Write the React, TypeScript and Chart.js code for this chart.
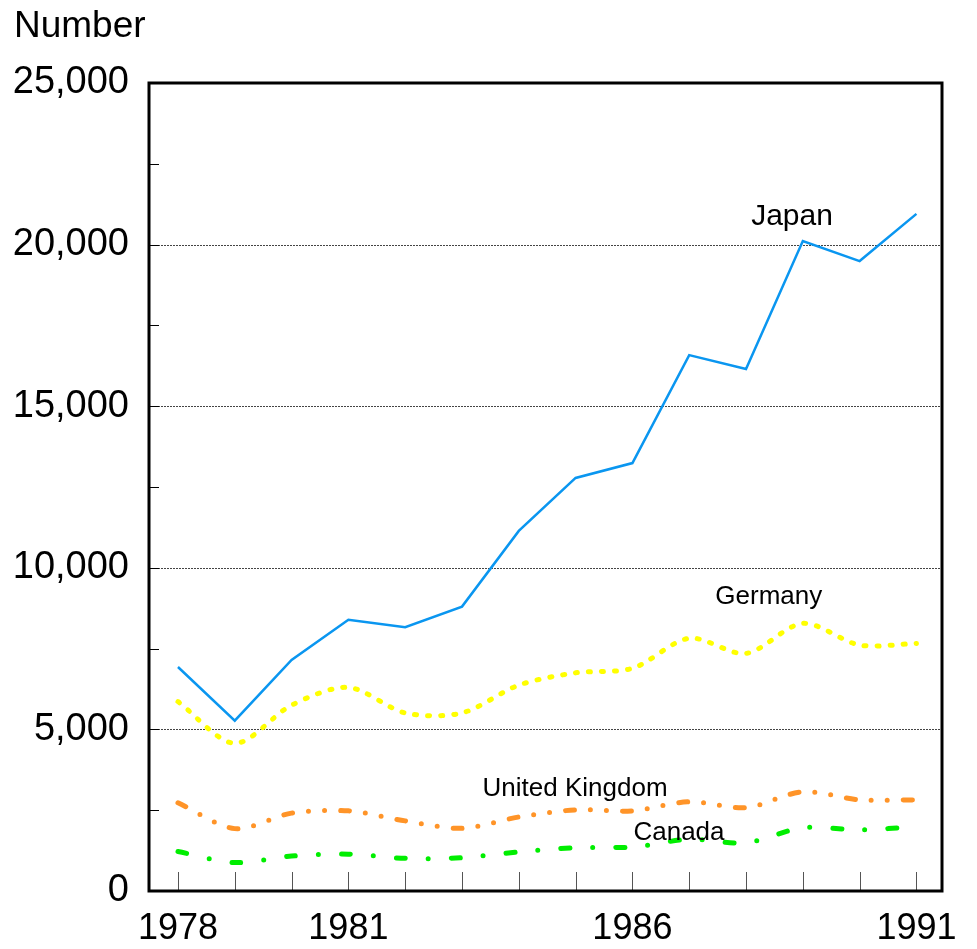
import React, { useEffect, useRef } from "react";
import { Chart, registerables } from "chart.js";

Chart.register(...registerables);

const years = [1978, 1979, 1980, 1981, 1982, 1983, 1984, 1985, 1986, 1987, 1988, 1989, 1990, 1991];
const labeledYears = [1978, 1981, 1986, 1991];
const yTickValues = [0, 5000, 10000, 15000, 20000, 25000];
const yMinorTicks = [2500, 7500, 12500, 17500, 22500];

const japan = [6930, 5270, 7150, 8390, 8160, 8800, 11140, 12780, 13240, 16580, 16150, 20110, 19490, 20950];
const germany = [5860, 4570, 5750, 6300, 5510, 5510, 6370, 6750, 6890, 7820, 7350, 8280, 7610, 7660];
const unitedKingdom = [2730, 1930, 2410, 2480, 2170, 1940, 2290, 2510, 2480, 2760, 2580, 3070, 2820, 2820];
const canada = [1220, 880, 1080, 1140, 1010, 1030, 1210, 1340, 1360, 1600, 1490, 1960, 1890, 1990];

const seriesLabels = [
  { text: "Japan", x: 1988.81, y: 20850, size: 30 },
  { text: "Germany", x: 1988.4, y: 9100, size: 26 },
  { text: "United Kingdom", x: 1984.99, y: 3160, size: 26 },
  { text: "Canada", x: 1986.82, y: 1790, size: 26 },
];

const FONT = "'Liberation Sans', Arial, Helvetica, sans-serif";

const pts = (vals: number[]) => vals.map((v, i) => ({ x: years[i], y: v }));

const decorPlugin = {
  id: "decor",
  beforeDatasetsDraw(chart: any) {
    const { ctx, chartArea: a, scales } = chart;
    const xs = scales.x;
    const ys = scales.y;
    ctx.save();
    ctx.strokeStyle = "#444";
    ctx.lineWidth = 1;
    ctx.setLineDash([2, 1]);
    [5000, 10000, 15000, 20000].forEach((v) => {
      const y = Math.round(ys.getPixelForValue(v)) + 0.5;
      ctx.beginPath();
      ctx.moveTo(a.left, y);
      ctx.lineTo(a.right, y);
      ctx.stroke();
    });
    ctx.setLineDash([]);
    ctx.strokeStyle = "#555";
    years.forEach((yr) => {
      const x = Math.round(xs.getPixelForValue(yr)) + 0.5;
      ctx.beginPath();
      ctx.moveTo(x, a.bottom);
      ctx.lineTo(x, a.bottom - 19);
      ctx.stroke();
    });
    ctx.strokeStyle = "#000";
    [...yMinorTicks, ...yTickValues].forEach((v) => {
      const y = Math.round(ys.getPixelForValue(v)) + 0.5;
      ctx.beginPath();
      ctx.moveTo(a.left, y);
      ctx.lineTo(a.left + 10, y);
      ctx.stroke();
    });
    ctx.restore();
  },
  afterDatasetsDraw(chart: any) {
    const { ctx, chartArea: a, scales } = chart;
    ctx.save();
    ctx.strokeStyle = "#000";
    ctx.lineWidth = 3;
    ctx.strokeRect(a.left, a.top, a.right - a.left, a.bottom - a.top);
    ctx.fillStyle = "#000";
    ctx.textAlign = "center";
    ctx.textBaseline = "middle";
    seriesLabels.forEach((l) => {
      ctx.font = `${l.size}px ${FONT}`;
      ctx.fillText(l.text, scales.x.getPixelForValue(l.x), scales.y.getPixelForValue(l.y));
    });
    ctx.font = `37px ${FONT}`;
    ctx.textAlign = "left";
    ctx.textBaseline = "alphabetic";
    ctx.fillText("Number", 14, 37);
    ctx.restore();
  },
};

export default function App() {
  const ref = useRef<HTMLCanvasElement>(null);
  useEffect(() => {
    const canvas = ref.current!;
    const chart = new Chart(canvas, {
      type: "line",
      data: {
        datasets: [
          {
            label: "Japan",
            data: pts(japan),
            borderColor: "#0a96f0",
            borderWidth: 2.5,
            pointRadius: 0,
            tension: 0,
          },
          {
            label: "Germany",
            data: pts(germany),
            borderColor: "#ffff00",
            borderWidth: 5,
            borderDash: [2, 11],
            borderCapStyle: "round",
            pointRadius: 0,
            tension: 0.3,
          },
          {
            label: "United Kingdom",
            data: pts(unitedKingdom),
            borderColor: "#ff9428",
            borderWidth: 5,
            borderDash: [9, 16, 0, 16, 0, 16],
            borderCapStyle: "round",
            pointRadius: 0,
            tension: 0.3,
          },
          {
            label: "Canada",
            data: pts(canada),
            borderColor: "#00ee00",
            borderWidth: 5,
            borderDash: [9, 23, 0, 23],
            borderCapStyle: "round",
            pointRadius: 0,
            tension: 0.3,
          },
        ],
      },
      options: {
        animation: false,
        responsive: false,
        maintainAspectRatio: false,
        layout: { padding: { top: 83, right: 35, left: 0, bottom: 0 } },
        plugins: { legend: { display: false }, tooltip: { enabled: false } },
        scales: {
          x: {
            type: "linear",
            min: 1977.49,
            max: 1991.45,
            afterBuildTicks: (axis: any) => {
              axis.ticks = years.map((v) => ({ value: v }));
            },
            afterFit: (axis: any) => {
              axis.height = 58;
            },
            grid: { display: false },
            border: { display: false },
            ticks: {
              autoSkip: false,
              maxRotation: 0,
              padding: 8,
              color: "#000",
              font: { family: FONT, size: 36 },
              callback: (v: any) => (labeledYears.includes(Number(v)) ? String(v) : ""),
            },
          },
          y: {
            type: "linear",
            min: 0,
            max: 25000,
            afterBuildTicks: (axis: any) => {
              axis.ticks = yTickValues.map((v) => ({ value: v }));
            },
            afterFit: (axis: any) => {
              axis.width = 149;
            },
            grid: { display: false },
            border: { display: false },
            ticks: {
              padding: 12,
              color: "#000",
              font: { family: FONT, size: 38 },
              callback: (v: any) => Number(v).toLocaleString("en-US"),
            },
          },
        },
      },
      plugins: [decorPlugin],
    } as any);
    return () => chart.destroy();
  }, []);
  return (
    <div style={{ position: "fixed", left: 0, top: 0, width: 977, height: 949, background: "#fff" }}>
      <canvas ref={ref} width={977} height={949} style={{ width: 977, height: 949 }} />
    </div>
  );
}
